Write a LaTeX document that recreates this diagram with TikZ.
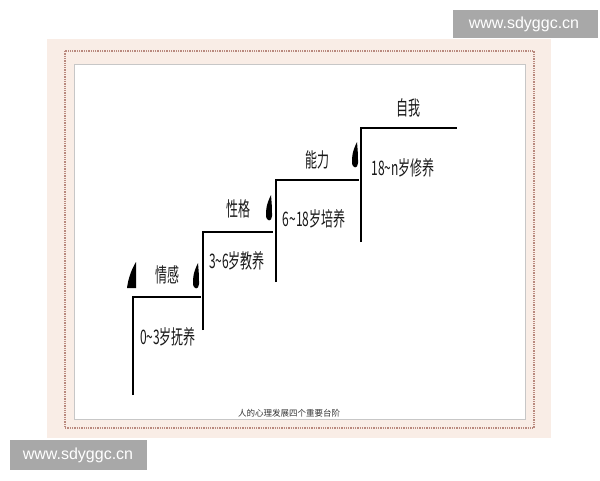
\documentclass[tikz,border=0pt]{standalone}
\usepackage{fontspec}
\newfontfamily\cjk{Noto Sans CJK SC}
\newfontfamily\wmfont{Liberation Sans}
\definecolor{paper}{HTML}{F9EDE6}
\definecolor{dotline}{HTML}{B9897E}
\definecolor{wmgray}{HTML}{A8A8A8}
\newcommand{\narrow}[1]{\scalebox{0.6}[1]{#1}}
\tikzset{
  lbl/.style={font=\cjk\fontsize{20}{22}\selectfont, text=black!90, inner sep=0pt},
  stair/.style={line width=2.4pt, line join=miter},
  wmark/.style={font=\wmfont\fontsize{16}{18}\selectfont, text=white, inner sep=0pt},
  drop/.pic={\fill (5,0) .. controls (0,10) and (0,15) .. (0,20) .. controls (0,27) and (6,27) .. (6,21) .. controls (6,12) .. (5,0);}
}
\begin{document}
\begin{tikzpicture}[x=1pt, y=-1pt]
    \useasboundingbox (0,0) rectangle (600,480);

    % Paper and frame
    \fill[paper] (47,39) rectangle (551,438);
    \draw[dotline, densely dotted, line width=1.3pt] (65,51) rectangle (534,428);
    \filldraw[fill=white, draw=black!22, line width=0.6pt] (74,64) rectangle (525,419);

    % Steps: corner, lowest point, end of tread
    \coordinate (c1) at (133,297); \coordinate (b1) at (133,395); \coordinate (e1) at (201,297);
    \coordinate (c2) at (203,232); \coordinate (b2) at (203,330); \coordinate (e2) at (273,232);
    \coordinate (c3) at (276,180); \coordinate (b3) at (276,282); \coordinate (e3) at (359,180);
    \coordinate (c4) at (361,128); \coordinate (b4) at (361,242); \coordinate (e4) at (457,128);
    \foreach \i in {1,...,4} \draw[stair] (b\i) -- (c\i) -- (e\i);

    % Marks beside the treads
    \fill (127,288) -- (136,288) -- (136,262) .. controls (131,270) and (128,280) .. cycle;
    \foreach \p in {(193,263), (266,195), (352,142)} \pic at \p {drop};

    % Labels
    \node[lbl] (q1) at (167,275) {\narrow{情感}};
    \node[lbl] (a1) at (168,337) {\narrow{0\textasciitilde3岁抚养}};
    \node[lbl] (q2) at (238,209) {\narrow{性格}};
    \node[lbl] (a2) at (237,261) {\narrow{3\textasciitilde6岁教养}};
    \node[lbl] (q3) at (317,160) {\narrow{能力}};
    \node[lbl] (a3) at (314,219) {\narrow{6\textasciitilde18岁培养}};
    \node[lbl] (q4) at (408,108) {\narrow{自我}};
    \node[lbl] (a4) at (403,168) {\narrow{18\textasciitilde n岁修养}};
    \node[font=\cjk\fontsize{8.5}{10}\selectfont, text=black!80, inner sep=0pt] (cap) at (289,413) {人的心理发展四个重要台阶};

    % Watermarks
    \fill[wmgray] (453,10) rectangle (598,38);
    \node[wmark] (w1) at (524,24) {www.sdyggc.cn};
    \fill[wmgray] (10,440) rectangle (147,470);
    \node[wmark] (w2) at (78,455) {www.sdyggc.cn};
\end{tikzpicture}
\end{document}
